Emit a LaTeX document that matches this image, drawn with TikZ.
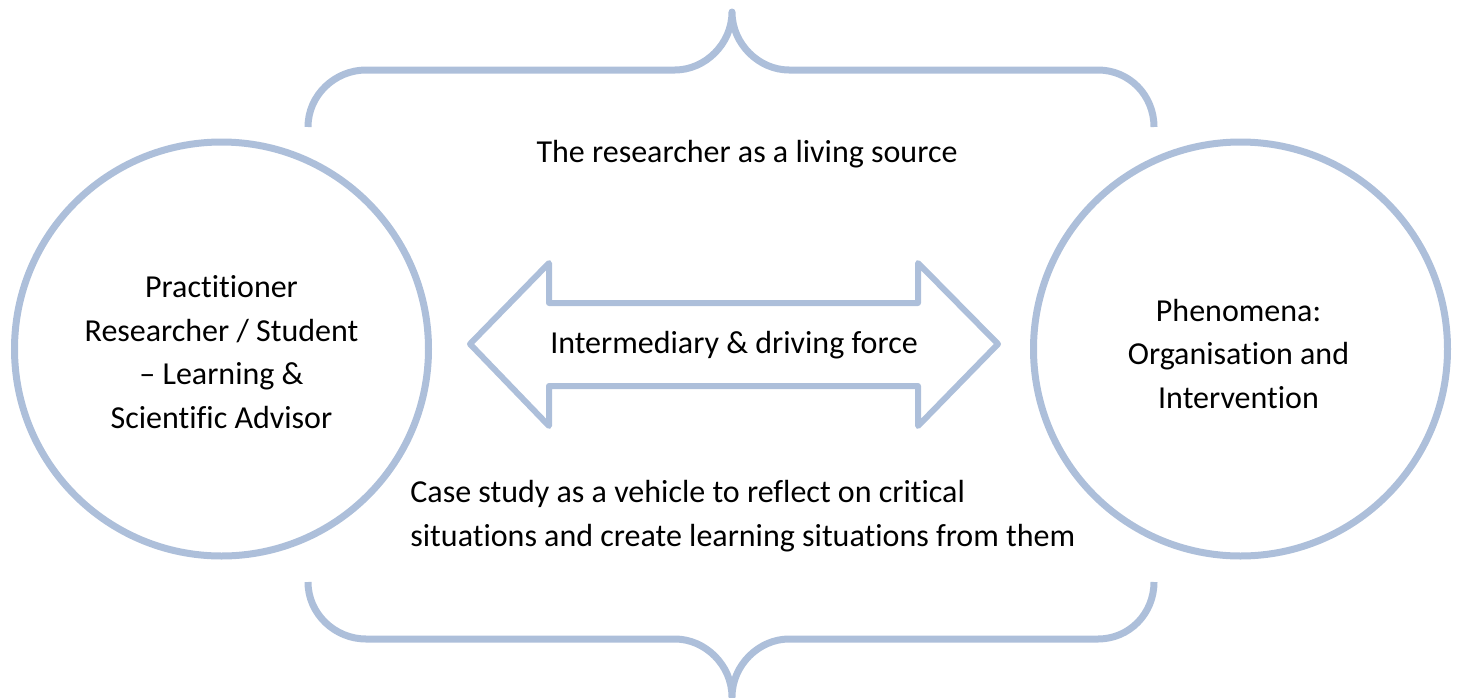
\documentclass[tikz,border=0pt]{standalone}
\usepackage{fontspec}
\setmainfont{Carlito}[Ligatures=NoCommon]
\usetikzlibrary{calc}
\definecolor{ringblue}{RGB}{173,191,218}
\tikzset{
  ring/.style={circle, draw=ringblue, line width=3.5pt, minimum size=207pt,
    inner sep=0pt, align=center},
  brace/.style={draw=ringblue, line width=3.5pt, line join=round},
  plaintext/.style={inner sep=0pt, align=center}
}
\begin{document}
\begin{tikzpicture}[x=0.5pt,y=-0.5pt,font=\fontsize{16}{21.8}\selectfont]
\useasboundingbox (0,0) rectangle (1458,697);

% the two partners
\node[ring] (prac) at (221.5,349) {};
\node[ring] (phen) at (1240.5,349) {};
\node[plaintext] (pracname) at ($(prac)+(0,3)$) {Practitioner\\Researcher / Student\\– Learning \&\\Scientific Advisor};
\node[plaintext] (phenname) at ($(phen)+(-2,5)$) {Phenomena:\\Organisation and\\Intervention};

% double arrow between them
\coordinate (tl) at (470,344);
\coordinate (tr) at (998,344);
\draw[ringblue, line width=3pt, line join=round]
  (tl) -- (549,263) -- (549,303) -- (918,303) -- (918,263) -- (tr)
  -- (918,426) -- (918,386) -- (549,386) -- (549,426) -- cycle;
\node[plaintext] (force) at ($(tl)!0.5!(tr)+(0,1)$) {Intermediary \& driving force};

% braces above and below
\draw[brace] (308,127) .. controls (308,95) and (335,70) .. (366,70) -- (675,70)
  .. controls (705,70) and (732,44) .. (732,12)
  .. controls (732,44) and (759,70) .. (789,70) -- (1098,70)
  .. controls (1129,70) and (1154,95) .. (1154,127);
\draw[brace] (308,582) .. controls (308,614) and (335,639) .. (366,639) -- (675,639)
  .. controls (705,639) and (732,665) .. (732,697)
  .. controls (732,665) and (759,639) .. (789,639) -- (1098,639)
  .. controls (1129,639) and (1154,614) .. (1154,582);

\node[plaintext] (source) at (747,154) {The researcher as a living source};
\node[plaintext, align=left, anchor=west] (case) at (410,516)
  {Case study as a vehicle to reflect on critical\\situations and create learning situations from them};

\end{tikzpicture}
\end{document}
